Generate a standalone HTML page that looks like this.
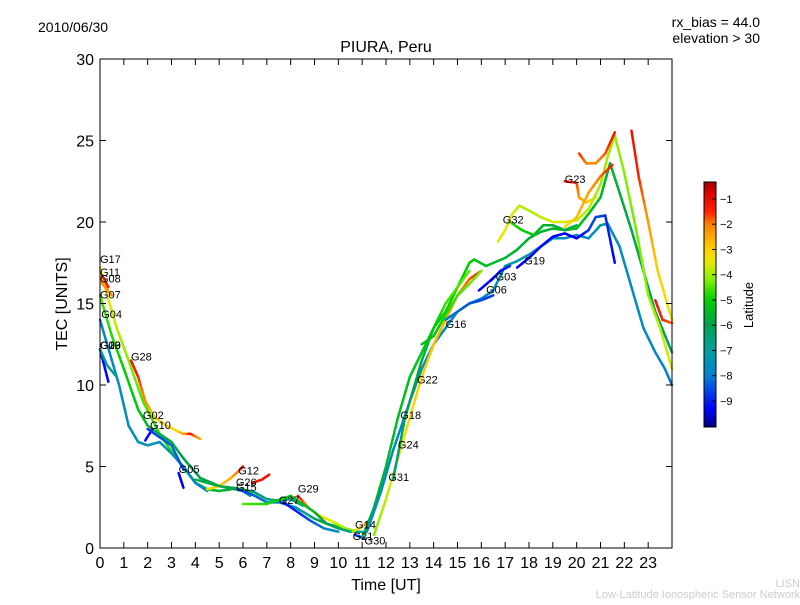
<!DOCTYPE html>
<html><head><meta charset="utf-8"><style>
body{margin:0;background:#fff;width:800px;height:600px;overflow:hidden;font-family:"Liberation Sans",sans-serif}
svg text{font-family:"Liberation Sans",sans-serif}
</style></head><body>
<svg id="c" width="800" height="600">
<defs><linearGradient id="jet" x1="0" y1="1" x2="0" y2="0" id2="g"></linearGradient></defs>
<text x="38" y="32" font-size="14">2010/06/30</text>
<text x="386" y="52" font-size="16" text-anchor="middle">PIURA, Peru</text>
<text x="760" y="27" font-size="14" text-anchor="end">rx_bias = 44.0</text>
<text x="760" y="43" font-size="14" text-anchor="end">elevation &gt; 30</text>
<text x="800" y="587" font-size="11" fill="#ccc" text-anchor="end">LISN</text>
<text x="800" y="598" font-size="11" fill="#ccc" text-anchor="end">Low-Latitude Ionospheric Sensor Network</text>
<text x="386" y="590" font-size="16" text-anchor="middle">Time [UT]</text>
<text transform="translate(67,304) rotate(-90)" font-size="16" text-anchor="middle">TEC [UNITS]</text>
<g id="marks"></g>
<g id="labels"></g>
<g id="axes"></g>
<g id="cbar"></g>
</svg>
<script>
const xTicks=[0,1,2,3,4,5,6,7,8,9,10,11,12,13,14,15,16,17,18,19,20,21,22,23];
const yTicks=[0,5,10,15,20,25,30];
const cbTicks=[-1,-2,-3,-4,-5,-6,-7,-8,-9];
const satNames=["G17","G11","G08","G07","G04","G20","G13","G09","G28","G02","G10","G05","G12","G26","G15","G27","G29","G14","G21","G30","G31","G24","G18","G22","G16","G06","G03","G19","G32","G23"];
const labelT=[0,0,0,0,0.05,0,0,0,1.3,1.8,2.1,3.3,5.8,5.7,5.7,7.5,8.3,10.7,10.6,11.1,12.1,12.5,12.6,13.3,14.5,16.2,16.6,17.8,16.9,19.5];
const labelV=[17.5,16.7,16.3,15.3,14.1,12.2,12.2,12.2,11.5,7.9,7.3,4.6,4.5,3.8,3.5,2.7,3.4,1.2,0.5,0.2,4.1,6.1,7.9,10.1,13.5,15.6,16.4,17.4,19.9,22.4];
const tT=[
[0,0.3,0.7,1.2,1.8,2.5,3.2,4,4.5,5,5.5],
[0,0.5,1,1.6,2,2.5,3,3.5,4.2,5,6,6.3],
[0,0.4,0.8,1.2,1.6,2,2.5,3,3.5,4,4.5],
[0.1,0.35],[0.05,0.5],
[0,0.35],[0,0.3,0.7],
[1.3,1.6,1.9,2.3,2.8,3.2,3.5,3.8,4.2],
[1.9,2.2],[2.0,2.5,3,3.5],[3.3,3.5],
[4.5,5,5.5,5.8,6],[6.4,6.8,7.1],
[4,5,6,6.5,7,7.5,8,8.5],
[5.8,6.5,7,7.5,8.2,9,9.5,10,10.5],
[7.7,8.2,8.8,9.4,10],
[8.3,8.8,9.2,9.8,10.3,10.8],
[6,7,8,9,9.5,10,10.5,11],
[10.6,11,11.3],[10.7,11.1],
[11,11.5,12,12.5,13,13.5,14,14.5,15,15.5,15.7,16.2,17,17.5,18,18.5,19,19.5,20,20.5,21,21.4,21.8,22.3,22.8,23.3,24],
[11.2,11.8,12.3,13,13.5,14,14.5,15,15.5,16,16.5,17,17.5,18,18.5,19,19.5,20,20.5,21,21.3,21.8,22.3,22.8,23.3,23.7,24],
[11.5,12,12.8,13.5,14,14.5,15,15.5,16],
[12.3,12.8,13.5,14,14.5,15,15.5],
[13.5,14,14.5,15,15.5,16],
[14.5,15,15.5,16,16.5],
[15.9,16.3,16.6],[16.4,16.8,17.2],
[17.5,18,18.5,19,19.5,20,20.5,20.8,21.2,21.6],
[19.5,20,20.1,20.4,20.8],
[16.7,17,17.3,17.6,18,18.5,19,19.5,20,20.5,21,21.3,21.6,22,22.5,23,23.5,24],
[17.2,17.7,18.2,18.6,19,19.5,20],
[20.1,20.4,20.8,21.2,21.6],
[19.5,20,20.5,21,21.5],
[22.3,22.6,23,23.4,23.8,24],
[23.3,23.6,24]];
const tV=[
[17.2,15.5,13.5,11.5,9,7,5.5,4,3.6,3.5,3.6],
[15.5,13,11,8.5,7.5,7,6.5,5.5,4.3,3.8,3.5,3.2],
[14,12,10,7.5,6.5,6.3,6.5,5.8,5,4,3.5],
[16.7,16],[16.3,15.5],
[12.2,10.2],[12.2,11.2,10.5],
[11.5,10.5,9,8,7.5,7.2,7,7,6.7],
[6.6,7.3],[7.3,6.8,6.3,4.8],[4.6,3.7],
[3.6,3.8,4.3,4.7,5.0],[4,4.2,4.5],
[4.2,3.8,3.6,3.4,3,2.9,3,2.6],
[3.6,3.2,2.8,2.8,2.5,1.8,1.5,1.3,1.1],
[2.8,2.3,1.7,1.2,1.0],
[3.2,2.4,2,1.6,1.2,1.0],
[2.7,2.7,3.2,2.2,1.5,1.2,1.0,1.0],
[1.0,1.3,1.7],[0.8,0.6],
[0.6,2.5,5,8,10.5,12,13.5,14.5,16,17.5,17.7,17.3,17.8,18.3,19,19.4,19.6,19.5,19.6,20.5,21.5,23.6,21.8,19.5,17,14.5,12],
[1,3.5,6,9,11,12.5,13.5,14.5,15,15.3,15.8,17.3,17.6,18,18.5,19,19,19.2,19,19.8,19.9,18.5,16,13.5,12,11,10],
[0.8,3,7,10.5,12.5,14,15.5,16.5,17],
[4.2,8,11.5,13.5,15,16,17],
[12.5,13,14.3,15.5,16.2,17],
[14,14.5,15,15.2,15.5],
[15.8,16.3,16.7],[16.4,17,17.3],
[17.2,17.8,18.5,19.1,19.3,19,19.5,20.3,20.4,17.5],
[22.5,22.4,21.5,21.2,21.5],
[18.8,19.5,20.5,21,20.7,20.3,20,20,20.1,20.8,22.3,24,25.3,23,19.5,15.5,13.5,11],
[20,19.5,19.2,19.8,19.8,19.5,19.8],
[24.2,23.6,23.6,24.2,25.5],
[19.7,20.3,21.8,22.8,23.5],
[25.6,22.8,20,17,15,14],
[15.2,14,13.8]];
const tL=[
[-3.2,-3.5,-3.8,-4.2,-4.5,-4.7,-4.8,-5,-5.2,-5.5,-5.6],
[-4.5,-4.8,-5,-5.2,-5.5,-5.6,-5.8,-6,-6,-6.2,-6.5,-6.8],
[-7.8,-7.8,-7.6,-7.5,-7.4,-7.4,-7.3,-7.4,-7.6,-7.8,-8],
[-1.2,-1.2],[-2.2,-2.2],
[-9.2,-9.3],[-6.8,-6.8,-6.8],
[-1.2,-1.5,-2.2,-2.8,-3,-3.2,-2.6,-1.3,-2.5],
[-9.2,-9.2],[-8.8,-8.5,-8.2,-8.6],[-9.3,-9.4],
[-3.5,-3,-2.6,-2,-1.2],[-1.4,-1.3,-1.2],
[-5.6,-5.8,-6,-6.3,-6.5,-6.6,-6.6,-6.8],
[-8.8,-8.4,-8,-7.8,-7.5,-6.5,-5.5,-5,-4.5],
[-9.2,-9,-8.5,-8,-7.6],
[-1.2,-2.3,-3,-3.6,-4,-4.3],
[-4.5,-4.8,-5.2,-5.5,-6,-6.5,-6.8,-7],
[-4,-3,-1.5],[-8.8,-8.6],
[-5.8,-5.6,-5.5,-5.4,-5.3,-5.2,-5.1,-5,-5,-5.1,-5.2,-5.4,-5.5,-5.6,-5.7,-5.6,-5.5,-5.4,-5.4,-5.4,-5.5,-5.6,-5.7,-5.9,-6,-6.2,-6.4],
[-7.5,-7.6,-7.7,-7.6,-7.5,-7.4,-7.6,-7.8,-7.9,-7.8,-7.6,-7.4,-7.2,-7.3,-7.5,-7.5,-7.6,-7.7,-7.6,-7.5,-7.5,-7.5,-7.6,-7.6,-7.8,-7.9,-8.1],
[-4.2,-3.8,-3.3,-3,-2.8,-2.6,-2.2,-1.8,-1.3],
[-6.6,-6.2,-5.8,-5.2,-4.6,-4.5,-4.4],
[-5.5,-5.2,-4.8,-4.6,-4.4,-4.2],
[-8,-8.2,-8.4,-8.6,-8.7],
[-9.3,-9.2,-9.1],[-9.4,-9.2,-9],
[-9.3,-9.3,-9.2,-9.3,-9.4,-9.5,-8.8,-8.5,-8.8,-9.3],
[-1.2,-1.6,-2.2,-2.8,-3.3],
[-3.4,-3.5,-3.6,-3.8,-3.9,-3.8,-3.6,-3.6,-3.7,-3.8,-3.9,-4,-4,-4.2,-4.3,-4.1,-3.8,-3.6],
[-4.6,-5,-5.3,-5.5,-5.7,-5.8,-5.8],
[-1.5,-2,-2.1,-1.8,-1.2],
[-3.3,-2.8,-2.4,-1.9,-1.4],
[-1.1,-1.5,-2.3,-3,-3.3,-3.5],
[-1.2,-1.5,-1.8]];
const X=t=>100+t*(572/24), Y=v=>548-v*(489/30);
const LMIN=-10.03,LMAX=-0.33;
const cmL=[-10.03,-9.3,-8,-7,-6,-5,-4.2,-3.5,-3,-2,-1.5,-0.8,-0.33];
const cmC=[[0,0,128],[0,0,255],[0,128,208],[0,160,160],[0,160,80],[0,208,0],[128,240,0],[232,232,0],[255,208,0],[255,128,0],[255,32,0],[224,0,0],[160,0,0]];
function cmap(l){if(l<=cmL[0])return `rgb(${cmC[0]})`;
 for(let i=0;i<cmL.length-1;i++){if(l<=cmL[i+1]){const f=(l-cmL[i])/(cmL[i+1]-cmL[i]);
  return 'rgb('+cmC[i].map((c,k)=>Math.round(c+(cmC[i+1][k]-c)*f)).join(',')+')';}}
 return `rgb(${cmC[cmC.length-1]})`;}
const NS="http://www.w3.org/2000/svg";
const grad=document.getElementById('jet');
cmL.forEach((l,i)=>{const s=document.createElementNS(NS,'stop');s.setAttribute('offset',(l-LMIN)/(LMAX-LMIN));s.setAttribute('stop-color',`rgb(${cmC[i]})`);grad.appendChild(s);});
const marks=document.getElementById('marks');
tT.forEach((ts,k)=>{const vs=tV[k],ls=tL[k];
 for(let i=0;i<ts.length-1;i++){const n=5;
  for(let j=0;j<n;j++){const a=j/n,b=(j+1)/n;
   const l=ls[i]+(ls[i+1]-ls[i])*(a+b)/2;
   const s=document.createElementNS(NS,'line');
   
   
   s.setAttribute('x1',X(ts[i]+(ts[i+1]-ts[i])*a));s.setAttribute('y1',Y(vs[i]+(vs[i+1]-vs[i])*a));
   s.setAttribute('x2',X(ts[i]+(ts[i+1]-ts[i])*b));s.setAttribute('y2',Y(vs[i]+(vs[i+1]-vs[i])*b));
   s.setAttribute('stroke',cmap(l));s.setAttribute('stroke-width','2.5');s.setAttribute('stroke-linecap','round');
   marks.appendChild(s);}}});
const lab=document.getElementById('labels');
satNames.forEach((nm,i)=>{const t=document.createElementNS(NS,'text');
 
 
 t.setAttribute('x',X(labelT[i]));t.setAttribute('y',Y(labelV[i]));t.setAttribute('font-size','11');t.textContent=nm;lab.appendChild(t);});
const ax=document.getElementById('axes');let h='<rect x="100" y="59" width="572" height="489" fill="none" stroke="#000"/>';
xTicks.forEach(t=>{const x=X(t);h+=`<line x1="${x}" y1="548" x2="${x}" y2="542" stroke="#000"/><line x1="${x}" y1="59" x2="${x}" y2="65" stroke="#000"/><text x="${x}" y="568" font-size="16" text-anchor="middle">${t}</text>`;});
yTicks.forEach(v=>{const y=Y(v);h+=`<line x1="100" y1="${y}" x2="106" y2="${y}" stroke="#000"/><line x1="672" y1="${y}" x2="666" y2="${y}" stroke="#000"/><text x="94" y="${y+6}" font-size="16" text-anchor="end">${v}</text>`;});
ax.innerHTML=h;
const CY=l=>182+(LMAX-l)/(LMAX-LMIN)*245;
let c='<rect x="704" y="182" width="12" height="245" fill="url(#jet)" stroke="#000"/>';
cbTicks.forEach(l=>{const y=CY(l);c+=`<line x1="712" y1="${y}" x2="716" y2="${y}" stroke="#000"/><text x="720" y="${y+4}" font-size="11">\u2212${-l}</text>`;});
c+='<text transform="translate(753,305) rotate(-90)" font-size="13" text-anchor="middle">Latitude</text>';
document.getElementById('cbar').innerHTML=c;
</script>
</body></html>
